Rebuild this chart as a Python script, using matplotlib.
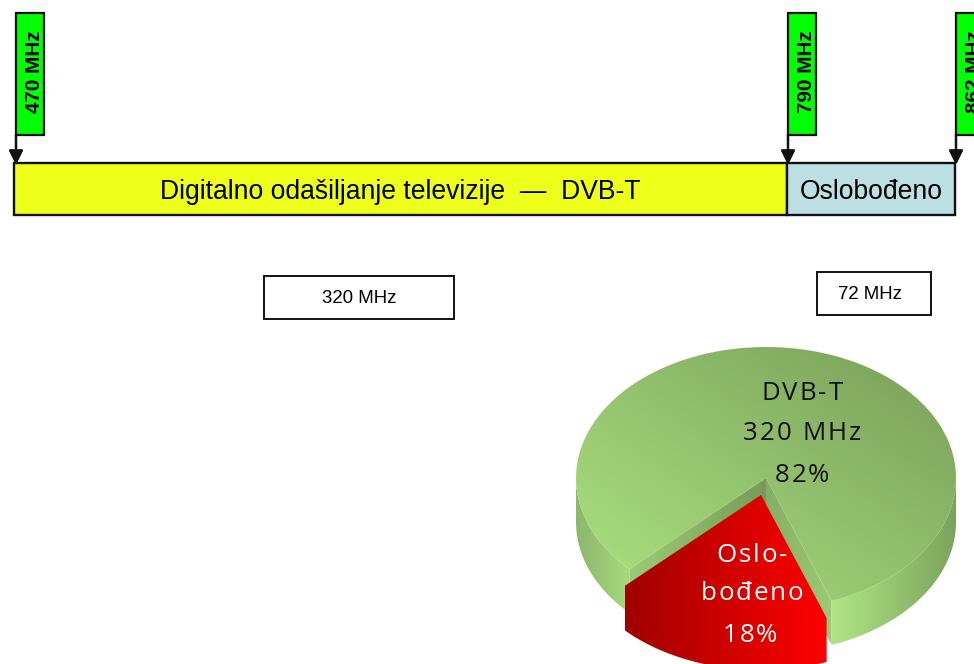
import matplotlib
matplotlib.use("Agg")
import matplotlib.pyplot as plt
import numpy as np
from matplotlib.colors import LinearSegmentedColormap
from matplotlib.font_manager import FontProperties
from matplotlib.patches import Polygon, Rectangle
from matplotlib.textpath import TextPath

plt.rcParams["font.family"] = ["Liberation Sans", "DejaVu Sans"]

# data
freq_labels = ["470 MHz", "790 MHz", "862 MHz"]
band_names = ["Digitalno odašiljanje televizije  —  DVB-T", "Oslobođeno"]
band_colors = ["#EEFF1A", "#BBDFE3"]
width_labels = ["320 MHz", "72 MHz"]
pie_values = [320, 72]
pie_labels = [["DVB-T", "320 MHz", "82%"], ["Oslo-", "bođeno", "18%"]]

# layout, in image pixels
EDGES = [15, 787, 955]
BAND_TOP, BAND_BOTTOM = 163, 215
FLAG_TOP, FLAG_BOTTOM = 13, 135
FLAG_WIDTH = 28
WIDTH_BOXES = [(264, 276, 190, 43), (817, 272, 114, 43)]
WIDTH_LABEL_X = [359.5, 870]
CX, CY, RX, RY = 766, 478, 190, 131
DEPTH = 44
EXPLODE = (-5, 17)
CUT_ANGLE = -69.8


def rim(deg, dx=0, dy=0):
    t = np.radians(deg)
    return np.column_stack([CX + dx + RX * np.cos(t), CY + dy - RY * np.sin(t)])


def gradient(ax, patch, colors, box, diagonal=False, z=2):
    # fills patch with a left to right (or corner to corner) gradient
    x0, x1, y0, y1 = box
    cmap = LinearSegmentedColormap.from_list("g", colors)
    xx, yy = np.meshgrid(np.linspace(0, 1, 200), np.linspace(0, 1, 200))
    values = (xx + (1 - yy)) / 2 if diagonal else xx
    patch.set(facecolor="none", edgecolor="none")
    ax.add_patch(patch)
    im = ax.imshow(values, cmap=cmap, extent=(x0, x1, y1, y0), aspect="auto",
                   origin="upper", zorder=z, vmin=0, vmax=1)
    im.set_clip_path(patch)


def spaced_text(ax, x, y, s, size, color, gap):
    # letter spaced text, the pie labels are tracked out in the original
    fp = FontProperties(family="Open Sans", size=size)
    scale = 100 / 72
    adv = []
    for ch in s:
        w = TextPath((0, 0), ch + "|", prop=fp).get_extents().x1
        w -= TextPath((0, 0), "|", prop=fp).get_extents().x1
        adv.append(w * scale)
    total = sum(adv) + gap * (len(s) - 1)
    pos = x - total / 2
    for ch, a in zip(s, adv):
        ax.text(pos, y, ch, fontproperties=fp, color=color, ha="left",
                va="center_baseline", zorder=10)
        pos += a + gap


fig = plt.figure(figsize=(9.74, 6.64), dpi=100)
ax = fig.add_axes([0, 0, 1, 1])

# frequency bands
for i, (name, color) in enumerate(zip(band_names, band_colors)):
    left, right = EDGES[i], EDGES[i + 1]
    ax.add_patch(Rectangle((left - 1 if i == 0 else left, BAND_TOP),
                           right - left + (1 if i == 0 else 0), BAND_BOTTOM - BAND_TOP,
                           facecolor=color, edgecolor="#111111", linewidth=1.7, zorder=2))
    ax.text((left + right) / 2 - (1 if i == 0 else -0.5), 192, name, fontsize=19.1,
            ha="center", va="center", zorder=3)

# frequency flags with arrows
for edge, label in zip(EDGES, freq_labels):
    ax.add_patch(Rectangle((edge + 1, FLAG_TOP), FLAG_WIDTH, FLAG_BOTTOM - FLAG_TOP,
                           facecolor="#00FF00", edgecolor="#111111", linewidth=1.6, zorder=3))
    ax.text(edge + 20, 72, label, rotation=90, fontsize=14.9, fontweight="bold",
            ha="center", va="center", zorder=4)
    ax.annotate("", xy=(edge + 1, BAND_TOP + 2), xytext=(edge + 1, FLAG_BOTTOM),
                arrowprops=dict(arrowstyle="-|>,head_length=0.85,head_width=0.42",
                                color="#111111", lw=1.8, shrinkA=0, shrinkB=0), zorder=5)

# bandwidth boxes
for (x, y, w, h), label, label_x in zip(WIDTH_BOXES, width_labels, WIDTH_LABEL_X):
    ax.add_patch(Rectangle((x, y), w, h, facecolor="white", edgecolor="#111111", linewidth=1.4))
    ax.text(label_x, y + h / 2 + 1, label, fontsize=13.4, ha="center", va="center")

# exploded 3d pie, slice sizes come from the values
sweep = 360 * pie_values[1] / sum(pie_values)
cut_a = CUT_ANGLE - sweep
cut_b = CUT_ANGLE
dvb_arc = np.linspace(cut_b, cut_a + 360, 200)
red_arc = np.linspace(cut_a, cut_b, 60)
low = CY + RY + DEPTH + 20

# green outer wall
rim_left = rim(np.linspace(180, cut_a + 360, 60))
rim_right = rim(np.linspace(cut_b, 0, 60))
left_wall = np.vstack([rim_left, (rim_left + [0, DEPTH])[::-1]])
right_wall = np.vstack([rim_right, (rim_right + [0, DEPTH])[::-1]])
gradient(ax, Polygon(left_wall, closed=True), ["#8DB66C", "#A8DA7E"],
         (CX - RX, rim_left[-1, 0] + 1, CY - RY, low), z=2)
gradient(ax, Polygon(right_wall, closed=True), ["#B0E585", "#7BA35B"],
         (rim_right[0, 0], CX + RX, CY - RY, low), z=2)

# walls of the cut
a_pt = rim([cut_a])[0]
b_pt = rim([cut_b])[0]
apex = np.array([CX, CY])
wall_l = np.array([apex, a_pt, a_pt + [0, DEPTH], apex + [0, DEPTH]])
wall_r = np.array([apex, b_pt, b_pt + [0, DEPTH], apex + [0, DEPTH]])
gradient(ax, Polygon(wall_r, closed=True), ["#86AE66", "#9CCB75"],
         (CX, b_pt[0] + 1, CY, low), z=3)
gradient(ax, Polygon(wall_l, closed=True), ["#9CCB75", "#769C58"],
         (a_pt[0] - 1, CX, CY, low), z=3)

# green top
top = np.vstack([[CX, CY], rim(dvb_arc)])
gradient(ax, Polygon(top, closed=True), ["#AEE483", "#789E59"], (CX - RX, CX + RX, CY - RY, CY + RY),
         diagonal=True, z=4)

# red slice, side and top share one gradient in the original
dx, dy = EXPLODE
red_rim = rim(red_arc, dx, dy)
red_tip = [CX + dx, CY + dy]
red_poly = np.vstack([[red_tip], [red_rim[0]], red_rim[0] + [0, DEPTH],
                      red_rim + [0, DEPTH], [red_rim[-1]]])
gradient(ax, Polygon(red_poly, closed=True), ["#A00000", "#FF0000"],
         (red_rim[0, 0], red_rim[-1, 0], CY, low), z=5)

# pie labels
for y, line in zip([390, 431, 472], pie_labels[0]):
    spaced_text(ax, 802, y, line, 18.6, "#111111", 2.0)
for y, line, x in zip([552, 591, 632], pie_labels[1], [752, 752, 750]):
    spaced_text(ax, x, y, line, 18.6, "white", 2.0)

ax.set_xlim(0, 974)
ax.set_ylim(664, 0)
ax.axis("off")
fig.savefig("out.png", dpi=100, facecolor="white")
